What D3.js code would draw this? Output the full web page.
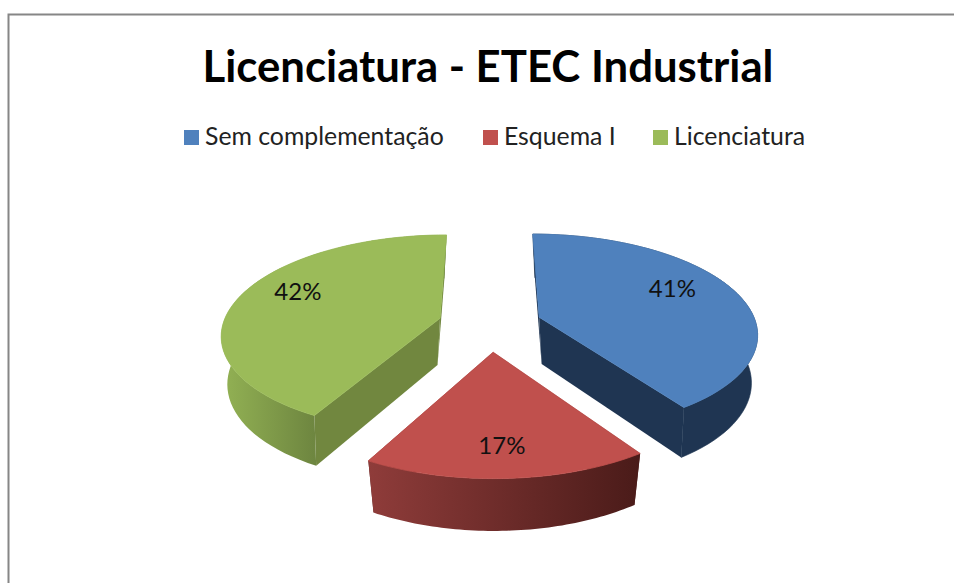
<!DOCTYPE html>
<html>
<head>
<meta charset="utf-8">
<script src="https://cdn.jsdelivr.net/npm/d3@7"></script>
<style>
html, body { margin: 0; padding: 0; background: #fff; }
svg { display: block; }
text { font-family: Lato, "Open Sans", sans-serif; }
</style>
</head>
<body>
<div id="chart"></div>
<script>
const categories = ["Sem complementação", "Esquema I", "Licenciatura"];
const values = [40.5, 17.4, 42.1];
const topColors = ["#4f81bd", "#c0504d", "#9bbb59"];
const title = "Licenciatura - ETEC Industrial";

const width = 954, height = 583;
const cx = 490, cy = 324, radius = 217;
const explode = [52, 60, 52];
const aspect = 0.45, perspX = 0.0007, perspY = 0.0007, depth = 47;
// nudges for the data labels, pixels from the projected point
const labelNudge = [[3, -11], [0, 15], [-9, -12]];

const svg = d3.select("#chart").append("svg")
	.attr("width", width)
	.attr("height", height);

svg.append("path")
	.attr("d", `M8.5,${height}V14.5H${width}`)
	.attr("fill", "none")
	.attr("stroke", "#868686")
	.attr("stroke-width", 2);

svg.append("text")
	.attr("x", 488)
	.attr("y", 82)
	.attr("text-anchor", "middle")
	.style("font-size", "43.7px")
	.style("font-weight", "bold")
	.attr("fill", "#000")
	.text(title);

// legend
const legendX = [184, 483, 653];
const legend = svg.append("g");
categories.forEach((c, i) => {
	legend.append("rect")
		.attr("x", legendX[i]).attr("y", 130)
		.attr("width", 15).attr("height", 15)
		.attr("fill", topColors[i]);
	legend.append("text")
		.attr("x", legendX[i] + 21).attr("y", 145)
		.style("font-size", "24.8px")
		.attr("fill", "#222")
		.text(c);
});

const pie = d3.pie().sort(null).value(d => d);
const arcs = pie(values);

// world point on the pie plane to screen, z 0 = top face, z 1 = bottom face
function project(ex, ey, rx, ry, z) {
	const Y = ey + ry;
	const s = 1 / (1 + perspX * Y);
	const X = z ? ex * 1.05 + rx * 0.96 : ex + rx;
	return [
		cx + X * s,
		cy - aspect * Y / (1 + perspY * Y) + (z ? depth * Math.sqrt(s) : 0)
	];
}

const defs = svg.append("defs");
const line = d3.line();

const wallStops = [
	null,
	["#8f3c3a", "#4a1b19"],
	["#93b254", "#6e8640"]
];
const flatWall = ["#1f3552", "#5a2523", "#71873f"];

arcs.forEach((a, i) => {
	const mid = (a.startAngle + a.endAngle) / 2;
	const ex = explode[i] * Math.sin(mid), ey = explode[i] * Math.cos(mid);
	const angles = d3.range(0, 61).map(k => a.startAngle + (a.endAngle - a.startAngle) * k / 60);
	const rim = z => angles.map(t => project(ex, ey, radius * Math.sin(t), radius * Math.cos(t), z));
	const apex = z => project(ex, ey, 0, 0, z);
	const topRim = rim(0), botRim = rim(1);
	const g = svg.append("g");

	// cut faces
	[[topRim[0], botRim[0]], [topRim[60], botRim[60]]].forEach(e => {
		g.append("path")
			.attr("d", line([apex(0), e[0], e[1], apex(1)]) + "Z")
			.attr("fill", flatWall[i]);
	});

	// outer wall
	let wallFill = flatWall[i];
	if (wallStops[i]) {
		const xs = i === 2
			? [d3.min(topRim, p => p[0]), topRim[0][0]]
			: [topRim[60][0], topRim[0][0]];
		const id = "wall" + i;
		const grad = defs.append("linearGradient")
			.attr("id", id)
			.attr("gradientUnits", "userSpaceOnUse")
			.attr("x1", xs[0]).attr("x2", xs[1]).attr("y1", 0).attr("y2", 0);
		grad.selectAll("stop").data(wallStops[i]).enter().append("stop")
			.attr("offset", (d, k) => k)
			.attr("stop-color", d => d);
		wallFill = `url(#${id})`;
	}
	g.append("path")
		.attr("d", line(topRim.concat(botRim.slice().reverse())) + "Z")
		.attr("fill", wallFill)
		.attr("stroke", wallStops[i] ? "none" : wallFill)
		.attr("stroke-width", 0.6);

	// top face, stroked so no wall colour shows around its rim
	g.append("path")
		.attr("d", line([apex(0)].concat(topRim)) + "Z")
		.attr("fill", topColors[i])
		.attr("stroke", topColors[i])
		.attr("stroke-width", 0.8);
});

// labels last, above every slice
arcs.forEach((a, i) => {
	const mid = (a.startAngle + a.endAngle) / 2;
	const ex = explode[i] * Math.sin(mid), ey = explode[i] * Math.cos(mid);
	const p = project(ex, ey, radius * 0.66 * Math.sin(mid), radius * 0.66 * Math.cos(mid), 0);
	svg.append("text")
		.attr("x", p[0] + labelNudge[i][0])
		.attr("y", p[1] + labelNudge[i][1])
		.attr("text-anchor", "middle")
		.attr("dy", "0.35em")
		.style("font-size", "24px")
		.attr("fill", "#111")
		.text(Math.round(a.data) + "%");
});
</script>
</body>
</html>
